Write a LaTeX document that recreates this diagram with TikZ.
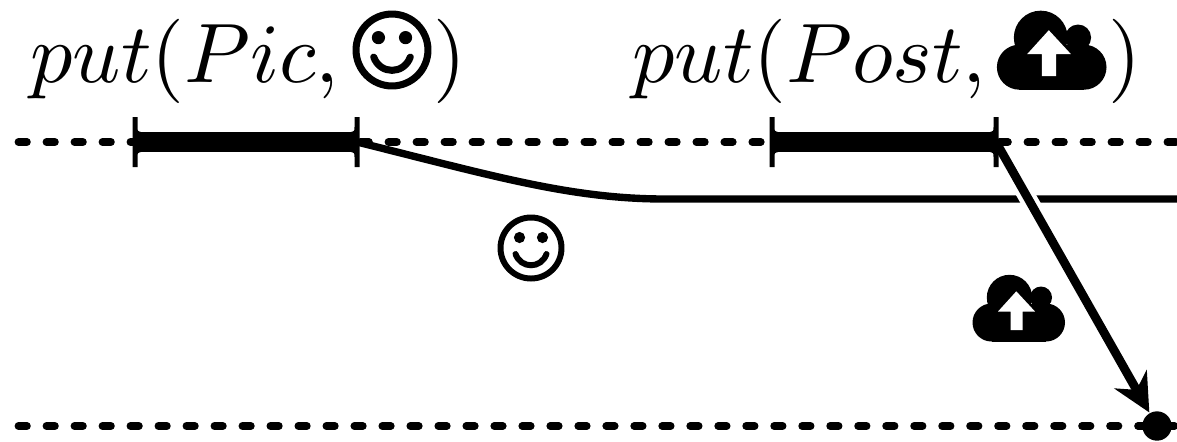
\documentclass[tikz,border=0pt]{standalone}
\usetikzlibrary{arrows.meta,calc}
\tikzset{
  dashline/.style={line width=4.4pt,line cap=round,dash pattern=on 4.8pt off 11.13pt},
  barline/.style={line width=11.4pt},
  conn/.style={line width=4.2pt},
  mathlabel/.style={inner sep=0pt,anchor=base west},
  dotnode/.style={circle,fill=black,inner sep=0pt,minimum size=16.7pt,outer sep=0.5pt},
  arrowconn/.style={line width=5pt,-{Stealth[length=21.6pt,width=21pt,inset=6.8pt]}}
}
\newcommand{\bigmath}[1]{\scalebox{4.8}{$#1$}}
\newcommand{\smiley}[3]{% x, y, radius in px
  \begin{scope}[shift={(#1,#2)},scale=#3/33.5]
    \draw[line width=#3/33.5*3.4pt] (0,0) circle (30.5);
    \fill (-11.5,-10.5) circle (5.6);
    \fill (11.5,-10.5) circle (5.6);
    \draw[line width=#3/33.5*3.4pt,line cap=round] (-15.5,6) .. controls (-10,21) and (10,21) .. (15.5,6);
  \end{scope}}
\newcommand{\cloudup}[3]{% x, y, scale
  \begin{scope}[shift={(#1,#2)},scale=#3]
    \fill (-9.5,-10.5) circle (22.7);
    \fill (22,-10.5) circle (11);
    \fill (-27.5,14.5) circle (19);
    \fill (27,14.5) circle (19);
    \fill (-27.5,-4) rectangle (27,33.5);
    \fill[white] (-2.7,-16.7) -- (16,3.5) -- (3.5,3.5) -- (3.5,22) -- (-8.5,22) -- (-8.5,3.5) -- (-21,3.5) -- cycle;
  \end{scope}}
\newcommand{\barticks}[2]{% x1, x2 of the bar
  \foreach \xa/\sg in {#1/1,#2/-1}{
    \fill (\xa-\sg*2.5,117) -- (\xa+\sg*2.5,117) -- (\xa+\sg*2.5,127) .. controls (\xa+\sg*2.5,131) .. (\xa+\sg*6,132)
      -- (\xa+\sg*6,152) .. controls (\xa+\sg*2.5,153) .. (\xa+\sg*2.5,157) -- (\xa+\sg*2.5,167) -- (\xa-\sg*2.5,167) -- cycle;
  }}
\begin{document}
\begin{tikzpicture}[x=0.02cm,y=-0.02cm]
  \useasboundingbox (0,0) rectangle (1177,441);
  \clip (0,0) rectangle (1177,441);
  \coordinate (topL) at (18.5,142);
  \coordinate (topR) at (1180,142);
  \coordinate (botL) at (18.5,426);
  \coordinate (botR) at (1180,426);
  \coordinate (barAL) at (135,142);
  \coordinate (barAR) at (357,142);
  \coordinate (barBL) at (772,142);
  \coordinate (barBR) at (996,142);
  \coordinate (dashA) at (360.5,142);
  \coordinate (dashB) at (999.5,142);
  \coordinate (bend) at (665,199);
  \coordinate (lineEnd) at (1180,199);
  \draw[dashline] (topL) -- (barAL);
  \draw[dashline] (dashA) -- (barBL);
  \draw[dashline] (dashB) -- (topR);
  \draw[dashline] (botL) -- (botR);
  \draw[barline] (barAL) -- (barAR);
  \draw[barline] (barBL) -- (barBR);
  \barticks{135}{357}
  \barticks{772}{996}
  \draw[conn] (barAR) .. controls (490,175) and (570,199) .. (bend) -- (lineEnd);
  \node[dotnode] (dot) at (1157,426) {};
  \draw[white,line width=10pt] ($(barBR)!0.16!(dot)$) -- ($(barBR)!0.24!(dot)$);
  \draw[arrowconn] (barBR) -- (dot);
  \node[mathlabel] (lblA) at (30,82) {\bigmath{put(Pic,}};
  \node[mathlabel] (lblAc) at (433,82) {\bigmath{)}};
  \node[mathlabel] (lblB) at (632,82) {\bigmath{put(Post,}};
  \node[mathlabel] (lblBc) at (1108,82) {\bigmath{)}};
  \smiley{392}{50}{39.5}
  \smiley{531}{248}{33.5}
  \cloudup{1052}{50}{1.185}
  \cloudup{1019}{308}{1}
\end{tikzpicture}
\end{document}
